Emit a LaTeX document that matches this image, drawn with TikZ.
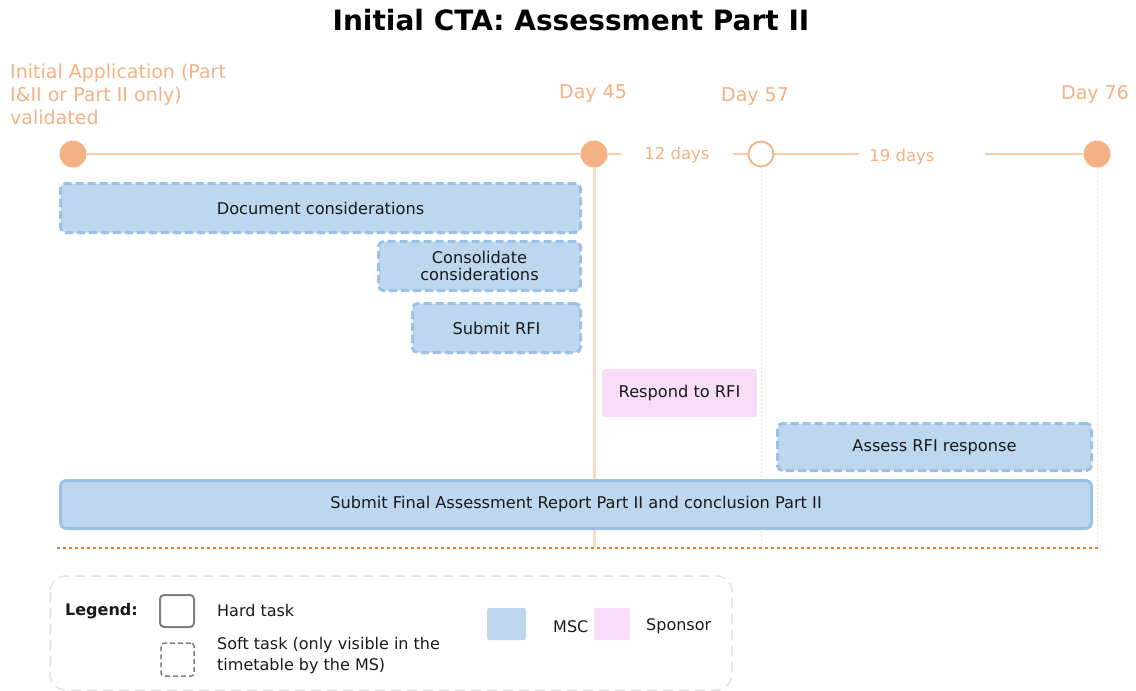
\documentclass[tikz,border=0pt]{standalone}
\usepackage{fontspec}
\setmainfont{DejaVu Sans}
\usetikzlibrary{calc}
\usetikzlibrary{positioning}

\definecolor{orng}{HTML}{F4B183}
\definecolor{tline}{HTML}{F8CBAD}
\definecolor{vline}{HTML}{FBDCC6}
\definecolor{endline}{HTML}{F37B2E}
\definecolor{mscfill}{HTML}{BDD7EE}
\definecolor{mscline}{HTML}{9BC2E6}
\definecolor{spfill}{HTML}{F9DDF8}
\definecolor{legline}{HTML}{E3E3E3}
\definecolor{txt}{HTML}{1A1A1A}

\tikzset{
  task/.style={rectangle, rounded corners=5pt, fill=mscfill, draw=mscline, line width=3pt,
    align=center, inner sep=0pt, text=txt, font=\fontsize{16.2}{19}\selectfont},
  soft/.style={dash pattern=on 8pt off 4pt},
  sponsortask/.style={task, fill=spfill, draw=none, rounded corners=3pt},
  milestone/.style={circle, fill=orng, minimum size=27pt, inner sep=0pt},
  openmilestone/.style={circle, fill=white, draw=orng, line width=1.8pt, minimum size=25pt, inner sep=0pt},
  daylabel/.style={text=orng, font=\fontsize{19}{23}\selectfont},
  gaplabel/.style={text=orng, font=\fontsize{16.5}{20}\selectfont, inner sep=0pt},
  legtext/.style={text=txt, font=\fontsize{16}{21}\selectfont, align=left, inner sep=0pt},
}

\begin{document}
\begin{tikzpicture}[x=1pt, y=-1pt]
    \useasboundingbox (0,0) rectangle (1136,691);
    \node[font=\fontsize{28}{33}\selectfont\bfseries] (title) at (571,20) {Initial CTA: Assessment Part II};

    % milestones
    \node[daylabel, anchor=north west, align=left, inner sep=0pt] (start) at (10,64)
        {Initial Application (Part\\I\&II or Part II only)\\validated};
    \node[daylabel] (l45) at (593,94) {Day 45};
    \node[daylabel] (l57) at (755,97) {Day 57};
    \node[daylabel] (l76) at (1095,94) {Day 76};
    \node[milestone] (d0) at (73,154) {};
    \node[milestone] (d45) at (594,154) {};
    \node[openmilestone] (d57) at (761,154) {};
    \node[milestone] (d76) at (1097,154) {};
    \node[gaplabel, inner xsep=23pt] (g12) at (677,155) {12 days};
    \node[gaplabel, inner xsep=10pt] (g19) at (902,157) {19 days};

    \coordinate (b45) at (594,548);
    \coordinate (b57) at (761,548);
    \coordinate (b76) at (1097,548);
    \coordinate (bl) at (57,548);
    \coordinate (br) at (1098,548);

    \draw[vline, line width=3pt] (d45) -- (b45);
    \draw[vline, line width=1pt, dash pattern=on 2pt off 2pt] (d57) -- (b57);
    \draw[vline, line width=1pt, dash pattern=on 2pt off 2pt] (d76) -- (b76);
    \draw[endline, line width=1.5pt, dash pattern=on 3pt off 3pt] (bl) -- (br);

    \draw[tline, line width=2pt] (d0) -- (d45);
    \draw[tline, line width=2pt] (d45) -- (g12.west |- d45);
    \draw[tline, line width=2pt] (g12.east |- d57) -- (d57);
    \draw[tline, line width=2pt] (d57) -- (g19.west |- d57);
    \draw[tline, line width=2pt, shorten <=40pt] (g19.east |- d76) -- (d76);

    % tasks
    \node[task, soft, minimum width=520pt, minimum height=49pt] (doc) at (320.5,208) {Document considerations};
    \node[task, soft, minimum width=202pt, minimum height=49pt] (cons) at (479.5,266) {Consolidate\\[-2pt]considerations};
    \node[task, soft, minimum width=168pt, minimum height=49pt] (rfi) at (496.5,328) {Submit RFI};
    \node[sponsortask, minimum width=155pt, minimum height=48pt] (resp) at (679.5,393) {Respond to RFI};
    \node[task, soft, minimum width=314pt, minimum height=47pt] (assess) at (934.5,447) {Assess RFI response};
    \node[task, minimum width=1031pt, minimum height=48pt, rounded corners=6pt] (final) at (576,504.5)
        {Submit Final Assessment Report Part II and conclusion Part II};

    % legend
    \draw[legline, line width=1.5pt, dash pattern=on 10pt off 6pt, rounded corners=16pt] (50,576) rectangle (732,690);
    \node[legtext, font=\fontsize{16}{21}\selectfont\bfseries, anchor=west] (legend) at (65,611) {Legend:};
    \node[draw=gray, line width=2pt, rounded corners=4pt, minimum width=34pt, minimum height=32pt] (hard) at (177,611) {};
    \node[legtext, anchor=west] (hardtxt) at (217,611) {Hard task};
    \node[draw=gray, line width=1.5pt, dash pattern=on 5pt off 3pt, rounded corners=3pt, minimum width=33pt, minimum height=33pt] (softbox) at (177.5,659.5) {};
    \node[legtext, anchor=west] (softtxt) at (217,656) {Soft task (only visible in the\\timetable by the MS)};
    \node[fill=mscfill, rounded corners=2pt, minimum width=39pt, minimum height=32pt] (mscbox) at (506.5,624) {};
    \node[legtext, anchor=west] (msctxt) at (553,627) {MSC};
    \node[fill=spfill, rounded corners=2pt, minimum width=36pt, minimum height=32pt] (spbox) at (612,624) {};
    \node[legtext, anchor=west] (sptxt) at (646,626) {Sponsor};
\end{tikzpicture}
\end{document}
